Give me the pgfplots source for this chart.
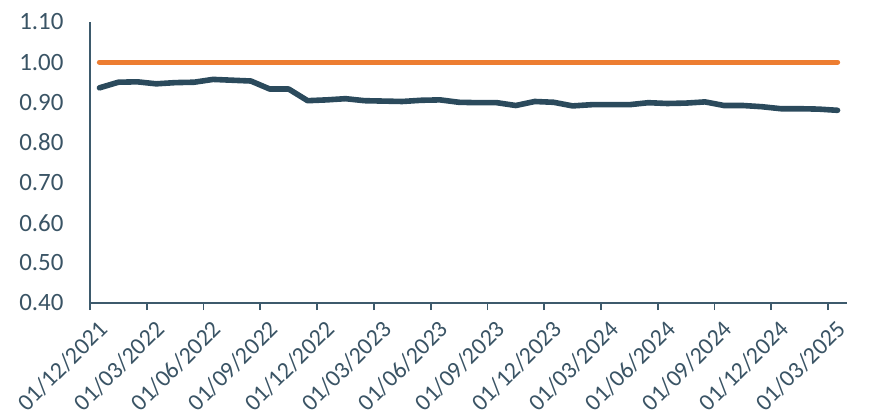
\documentclass[border=0pt]{standalone}
\usepackage{pgfplots}
\pgfplotsset{compat=1.18}
\usepackage{fontspec}
\setmainfont{Carlito}
\definecolor{orangeL}{HTML}{ED7D31}
\definecolor{darkL}{HTML}{2B4A5C}
\definecolor{axisC}{HTML}{3D5A6C}
\definecolor{textC}{HTML}{3A5465}
\begin{document}
\begin{tikzpicture}[x=1bp,y=1bp]
\begin{axis}[
  at={(0,0)}, anchor=origin,
  scale only axis,
  width=378.5bp, height=140.5bp,
  xmin=0, xmax=40,
  ymin=0.4, ymax=1.1,
  axis x line=bottom, axis y line=left,
  axis line style={axisC, line width=0.9bp, -},
  xtick={0,3,...,39},
  xticklabels={01/12/2021,01/03/2022,01/06/2022,01/09/2022,01/12/2022,01/03/2023,01/06/2023,01/09/2023,01/12/2023,01/03/2024,01/06/2024,01/09/2024,01/12/2024,01/03/2025},
  x tick label style={rotate=45, anchor=north east, font=\fontsize{12}{14}\selectfont, text=textC, inner sep=2bp, xshift=1.5bp, yshift=-3.5bp},
  xtick align=outside,
  x tick style={axisC, line width=0.9bp},
  major tick length=3.5bp,
  ytick={0.4,0.5,...,1.1},
  y tick style={draw=none},
  y tick label style={font=\fontsize{12.5}{14}\selectfont, text=textC},
  yticklabel style={/pgf/number format/.cd, fixed, fixed zerofill, precision=2, assume math mode=true},
  yticklabel shift=8bp,
  clip=false,
]
\addplot[orangeL, line width=2.6bp, line cap=round] table {
x y
0.5 1.00
39.5 1.00
};
\addplot[darkL, line width=2.8bp, line cap=round, line join=round] table {
x y
0.5 0.936
1.5 0.950
2.5 0.951
3.5 0.946
4.5 0.949
5.5 0.950
6.5 0.957
7.5 0.955
8.5 0.953
9.5 0.933
10.5 0.933
11.5 0.904
12.5 0.906
13.5 0.909
14.5 0.904
15.5 0.903
16.5 0.902
17.5 0.905
18.5 0.906
19.5 0.900
20.5 0.899
21.5 0.899
22.5 0.892
23.5 0.902
24.5 0.900
25.5 0.891
26.5 0.894
27.5 0.894
28.5 0.894
29.5 0.899
30.5 0.897
31.5 0.898
32.5 0.901
33.5 0.892
34.5 0.892
35.5 0.889
36.5 0.884
37.5 0.884
38.5 0.883
39.5 0.880
};
\end{axis}
\pgfresetboundingbox
\path[use as bounding box] (-45bp,-56bp) rectangle (389.5bp,151.5bp);
\end{tikzpicture}
\end{document}
